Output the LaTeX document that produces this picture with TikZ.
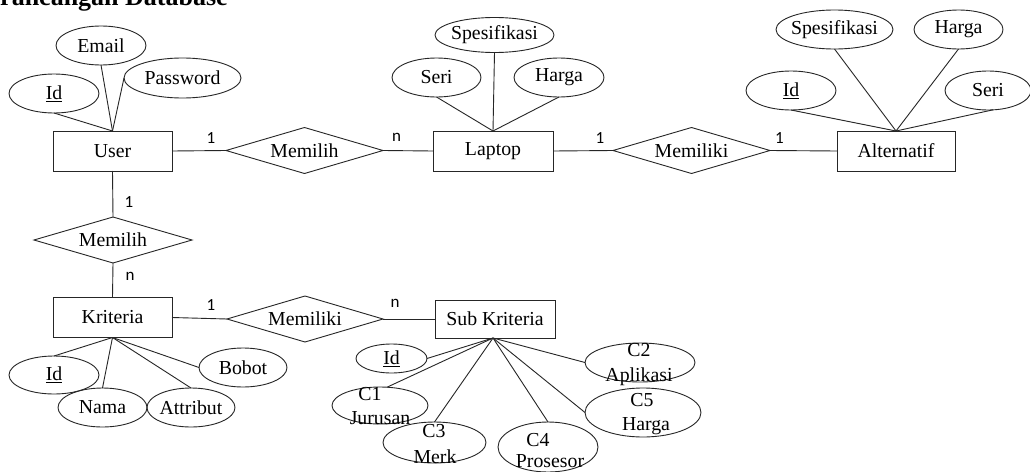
\documentclass[tikz,border=0pt]{standalone}
\usepackage{fontspec}
\setmainfont{Liberation Serif}
\newfontfamily\cardfont{Carlito}
\usetikzlibrary{shapes.geometric}
\newcommand\zb[1]{\makebox[0pt]{#1}}
\tikzset{
  x=1pt, y=-1pt,
  base/.style={inner sep=0pt, outer sep=0pt, line width=0.9pt, draw=black!85,
    font=\fontsize{19.8}{23}\selectfont},
  entity/.style={base, rectangle},
  rel/.style={base, diamond},
  attr/.style={base, ellipse},
  mtext/.style={inner sep=0pt, font=\fontsize{19.8}{23}\selectfont, anchor=base},
  card/.style={inner sep=0pt, font=\cardfont\fontsize{17}{19}\selectfont},
  conn/.style={line width=0.9pt, draw=black!85},
}
\begin{document}
\begin{tikzpicture}
\useasboundingbox (0,0) rectangle (1030,471);
\clip (0,0) rectangle (1030,471);
\fill[white] (0,0) rectangle (1030,471);

% title
\node[inner sep=0pt, anchor=base west, font=\bfseries\fontsize{26}{30}\selectfont] (title) at (-27.4,5.5) {Perancangan Database};

% entities
\node[entity, minimum width=119pt, minimum height=40pt] (user) at (112.5,151) {\zb{User}};
\node[entity, minimum width=120pt, minimum height=40pt] (laptop) at (493,151) {\zb{Laptop}};
\node[entity, minimum width=118pt, minimum height=40pt] (alt) at (896,151) {\zb{Alternatif}};
\node[entity, minimum width=119pt, minimum height=40pt] (krit) at (112.5,317.5) {\zb{Kriteria}};
\node[entity, minimum width=120pt, minimum height=38pt] (sub) at (495,319) {\zb{Sub Kriteria}};

% relationships
\node[rel, minimum width=157pt, minimum height=46pt] (r1) at (304.5,150.5) {\zb{Memilih}};
\node[rel, minimum width=157pt, minimum height=46pt] (r2) at (691.5,150.5) {\zb{Memiliki}};
\node[rel, minimum width=158pt, minimum height=46pt] (r3) at (113,240) {\zb{Memilih}};
\node[rel, minimum width=156pt, minimum height=46pt] (r4) at (305,319) {\zb{Memiliki}};

% user attributes
\node[attr, minimum width=90pt, minimum height=39pt] (uid) at (54,93.5) {\zb{\underline{Id}}};
\node[attr, minimum width=90pt, minimum height=39pt] (email) at (101,45.5) {\zb{Email}};
\node[attr, minimum width=117pt, minimum height=40pt] (pw) at (182.5,78) {\zb{Password}};

% laptop attributes
\node[attr, minimum width=119pt, minimum height=35pt] (lspec) at (494.5,35) {\zb{Spesifikasi}};
\node[attr, minimum width=89pt, minimum height=39pt] (lseri) at (436.5,77.5) {\zb{Seri}};
\node[attr, minimum width=90pt, minimum height=39pt] (lharga) at (559,77.5) {\zb{Harga}};

% alternatif attributes
\node[attr, minimum width=117pt, minimum height=39pt] (aspec) at (834.5,29.5) {\zb{Spesifikasi}};
\node[attr, minimum width=89pt, minimum height=39pt] (aharga) at (958.5,29.5) {\zb{Harga}};
\node[attr, minimum width=90pt, minimum height=39pt] (aid) at (791,90.5) {\zb{\underline{Id}}};
\node[attr, minimum width=86pt, minimum height=39pt] (aseri) at (988,90.5) {\zb{Seri}};

% kriteria attributes
\node[attr, minimum width=90pt, minimum height=38pt] (kid) at (54,375) {\zb{\underline{Id}}};
\node[attr, minimum width=89pt, minimum height=39pt] (nama) at (102.5,407.5) {\zb{Nama}};
\node[attr, minimum width=88pt, minimum height=39pt] (attrb) at (191,407.5) {\zb{Attribut}};
\node[attr, minimum width=88pt, minimum height=39pt] (bobot) at (243,367.5) {\zb{Bobot}};

% sub kriteria attributes
\node[attr, minimum width=71pt, minimum height=29pt] (sid) at (391.5,358.5) {\zb{\underline{Id}}};
\node[attr, minimum width=110pt, minimum height=39pt] (c2) at (640,362.5) {};
\node[attr, minimum width=96pt, minimum height=37pt] (c1) at (380,405.5) {};
\node[attr, minimum width=116pt, minimum height=49pt] (c5) at (643,412.5) {};
\node[attr, minimum width=103pt, minimum height=41pt] (c3) at (434.5,442.5) {};
\node[attr, minimum width=100pt, minimum height=50pt] (c4) at (548,447) {};

\node[mtext] (c2a) at (639,356) {C2};
\node[mtext] (c2b) at (639,381) {Aplikasi};
\node[mtext] (c1a) at (370,400) {C1};
\node[mtext] (c1b) at (380,424) {Jurusan};
\node[mtext] (c3a) at (434,437) {C3};
\node[mtext] (c3b) at (435,463) {Merk};
\node[mtext] (c4a) at (538,446.5) {C4};
\node[mtext] (c4b) at (550,467) {Prosesor};
\node[mtext] (c5a) at (642,406.5) {C5};
\node[mtext] (c5b) at (646,430) {Harga};

% cardinalities
\node[card] (k1) at (211,138) {1};
\node[card] (k2) at (396.5,137) {n};
\node[card] (k3) at (600,138) {1};
\node[card] (k4) at (779.5,138) {1};
\node[card] (k5) at (129,202.5) {1};
\node[card] (k6) at (130,276) {n};
\node[card] (k7) at (211,305.5) {1};
\node[card] (k8) at (395,303) {n};

% relationship connectors
\draw[conn] (user.east) -- (r1.west);
\draw[conn] (r1.east) -- (laptop.west);
\draw[conn] (laptop.east) -- (r2.west);
\draw[conn] (r2.east) -- (alt.west);
\draw[conn] (user.south) -- (r3.north);
\draw[conn] (r3.south) -- (krit.north);
\draw[conn] (krit.east) -- (r4.west);
\draw[conn] (r4.east) -- (sub.west);

% attribute connectors
\coordinate (subc) at ([xshift=-2pt]sub.south);
\draw[conn] (user.north) -- (uid.south);
\draw[conn] (user.north) -- (email.south);
\draw[conn] (user.north) -- (pw.west);
\draw[conn] (laptop.north) -- (lseri.south);
\draw[conn] (laptop.north) -- (lspec.south);
\draw[conn] (laptop.north) -- (lharga.south);
\draw[conn] (alt.north) -- (aid.south);
\draw[conn] (alt.north) -- (aspec.south);
\draw[conn] (alt.north) -- (aharga.south);
\draw[conn] (alt.north) -- (aseri.-76);
\draw[conn] (krit.south) -- (kid.north);
\draw[conn] (krit.south) -- (nama.north);
\draw[conn] (krit.south) -- (attrb.north);
\draw[conn] (krit.south) -- (bobot.west);
\draw[conn] (subc) -- (sid.east);
\draw[conn] (subc) -- (c1.69);
\draw[conn] (subc) -- (c3.north);
\draw[conn] (subc) -- (c4.north);
\draw[conn] (subc) -- (c5.west);
\draw[conn] (subc) -- (c2.west);
\end{tikzpicture}
\end{document}
